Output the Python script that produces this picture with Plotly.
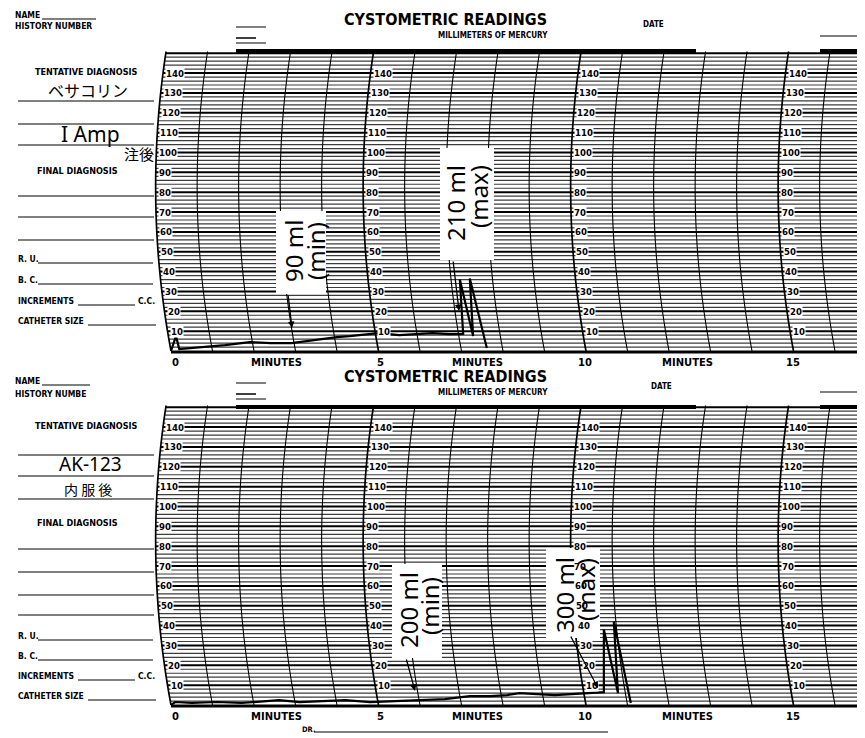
import numpy as np
import plotly.graph_objects as go

W, H = 865, 738

# ---------------- data (minutes, mmHg) ----------------
top_time = [0.00, 0.12, 0.20, 0.50, 0.90, 1.30, 1.90, 2.40, 2.90, 3.40, 4.00, 4.30,
            4.60, 5.00, 5.50, 5.90, 6.30, 6.70, 7.04, 6.96, 7.28, 7.20, 7.61]
top_press = [0.0, 7.5, 1.0, 1.5, 2.0, 3.0, 4.5, 4.0, 4.0, 5.5, 7.0, 7.5,
             8.0, 9.0, 8.0, 8.5, 9.0, 8.5, 8.6, 36.0, 7.5, 36.5, 1.5]

bot_time = [0.00, 0.10, 0.50, 1.10, 1.70, 2.30, 2.60, 3.10, 3.70, 4.20, 4.80, 5.30,
            6.00, 6.60, 7.20, 7.70, 8.10, 8.40, 9.25, 9.90, 10.43, 10.43, 10.77, 10.67, 11.08]
bot_press = [0.0, 1.5, 1.0, 1.5, 1.0, 2.0, 2.5, 1.5, 2.0, 2.5, 1.5, 2.0,
             2.5, 3.0, 4.5, 4.5, 5.0, 6.0, 5.0, 6.0, 6.5, 38.0, 6.0, 42.0, 1.0]

minute_ticks = [0, 5, 10, 15]
pressure_labels = [10, 20, 30, 40, 50, 60, 70, 80, 90, 100, 110, 120, 130, 140]

# ---------------- geometry ----------------
X0PX, PXM = 163.0, 41.5          # pixel of 0 min, px per minute
PXP = 1.985                      # px per mmHg
TOP_ZERO, BOT_ZERO = 343.0, 697.0
YMIN, YMAX = -1.2, 151.0
LEFT_PX = 140.0
XMIN = (LEFT_PX - X0PX) / PXM
XMAX = (W - X0PX) / PXM


def pxx(px):
    return px / W


def pxy(py):
    return 1 - py / H


def arc_off(p):
    # curvilinear (pen-arc) offset of the time lines, in minutes
    p = np.asarray(p, dtype=float)
    return (-0.3714 * p + 0.002245 * p ** 2) / PXM


def dx(px):
    return (px - X0PX) / PXM


def dy(py, zero):
    return (zero - py) / PXP


fig = go.Figure()
fig.add_trace(go.Scatter(x=top_time, y=top_press, mode="lines",
                         line=dict(color="black", width=2.2), xaxis="x", yaxis="y",
                         showlegend=False, hoverinfo="skip"))
fig.add_trace(go.Scatter(x=bot_time, y=bot_press, mode="lines",
                         line=dict(color="black", width=2.2), xaxis="x2", yaxis="y2",
                         showlegend=False, hoverinfo="skip"))

shapes = []
annotations = []

boxes = {"y": [(268, 318, 203, 286), (432, 486, 140, 252)],
         "y2": [(384, 434, 556, 650), (538, 592, 540, 630)]}

for (xr, yr, zero) in [("x", "y", TOP_ZERO), ("x2", "y2", BOT_ZERO)]:
    # horizontal chart lines (every 2 mmHg)
    for p in range(2, 152, 2):
        major = p % 10 == 0
        shapes.append(dict(type="line", xref=xr, yref=yr, layer="below",
                           x0=float(arc_off(p)), x1=XMAX, y0=p, y1=p,
                           line=dict(color="#000" if major else "#3c3c3c",
                                     width=2.0 if major else 1.2)))
    # curved time lines (every minute)
    ps = np.linspace(0, YMAX, 32)
    for m in range(0, 18):
        xs = m + arc_off(ps)
        path = "M " + " L ".join(f"{a:.4f},{b:.3f}" for a, b in zip(xs, ps))
        shapes.append(dict(type="path", xref=xr, yref=yr, layer="below", path=path,
                           line=dict(color="black", width=1.7 if m % 5 == 0 else 1.1)))
    # thick base line
    shapes.append(dict(type="line", xref=xr, yref=yr, layer="below",
                       x0=0, x1=XMAX, y0=-0.7, y1=-0.7,
                       line=dict(color="black", width=4)))
    # white boxes behind hand-written notes
    for (x0, x1, y0, y1) in boxes[yr]:
        shapes.append(dict(type="rect", xref=xr, yref=yr, layer="below",
                           x0=dx(x0), x1=dx(x1), y0=dy(y1, zero), y1=dy(y0, zero),
                           fillcolor="white", line=dict(width=0)))
    # pressure labels on major time lines
    for m in minute_ticks:
        for p in pressure_labels:
            annotations.append(dict(x=m + float(arc_off(p)) + 0.05, y=p, xref=xr, yref=yr,
                                    text=f"<b>{p}</b>", showarrow=False, xanchor="left",
                                    yanchor="middle",
                                    font=dict(family="DejaVu Sans Condensed", size=9.5, color="black"),
                                    bgcolor="white", borderpad=0))

hand = dict(family="Noto Sans", size=24, color="black")
notes = [("90 ml", 285, 243), ("(min)", 307, 243),
         ("210 ml", 448, 195), ("(max)", 470, 188),
         ("200 ml", 400, 602), ("(min)", 421, 598),
         ("300 ml", 556, 587), ("(max)", 577, 582)]
for t, x, y in notes:
    annotations.append(dict(text=t, x=pxx(x), y=pxy(y), xref="paper", yref="paper",
                            xanchor="center", yanchor="middle",
                            showarrow=False, textangle=-90, font=hand))

arrows = [("x", "y", TOP_ZERO, (280, 286), (284, 320)),
          ("x", "y", TOP_ZERO, (445, 252), (451, 303)),
          ("x2", "y2", BOT_ZERO, (398, 650), (407, 683)),
          ("x2", "y2", BOT_ZERO, (562, 627), (590, 680))]
for xr, yr, zero, (ax, ay), (tx, ty) in arrows:
    annotations.append(dict(text="", x=dx(tx), y=dy(ty, zero), ax=dx(ax), ay=dy(ay, zero),
                            xref=xr, yref=yr, axref=xr, ayref=yr, showarrow=True,
                            arrowhead=2, arrowsize=1, arrowwidth=1.3, arrowcolor="black"))


# ---------------- headers, minutes row, form text ----------------
def txt(t, x, y, size=9, family="DejaVu Sans Condensed", bold=True, anchor="left"):
    annotations.append(dict(text=f"<b>{t}</b>" if bold else t, x=pxx(x), y=pxy(y),
                            xref="paper", yref="paper", showarrow=False,
                            xanchor=anchor, yanchor="middle",
                            font=dict(family=family, size=size, color="black")))


def hline(x0, x1, y, w=1.0):
    shapes.append(dict(type="line", xref="paper", yref="paper", x0=pxx(x0), x1=pxx(x1),
                       y0=pxy(y), y1=pxy(y), line=dict(color="black", width=w)))


for off, zero in [(0, TOP_ZERO), (356, BOT_ZERO)]:
    txt("CYSTOMETRIC READINGS", 437, 12 + off, size=16, family="DejaVu Sans Condensed", bold=True, anchor="center")
    txt("MILLIMETERS OF MERCURY", 428, 28 + off, size=8)
    txt("DATE", 645 + (8 if off else 0), 16 + off + (6 if off else 0), size=8, anchor="center")
    hline(228, 688, 43 + off, w=4)
    hline(812, 865, 43 + off, w=4)
    hline(812, 865, 28 + off, w=1)
    hline(228, 258, 19 + off, w=1)
    hline(228, 248, 30 + off, w=1.5)
    hline(228, 258, 35 + off, w=1)
    yrow = zero + 11
    for t, x in [("0", 167), ("MINUTES", 268), ("5", 372), ("MINUTES", 470),
                 ("10", 577), ("MINUTES", 679), ("15", 785)]:
        txt(t, x, yrow, size=10, family="DejaVu Sans", anchor="center")

# top form
txt("NAME", 5, 7, size=8.5); hline(34, 88, 11)
txt("HISTORY NUMBER", 5, 18, size=8.5)
txt("TENTATIVE DIAGNOSIS", 78, 64, size=9, anchor="center")
txt("ベサコリン", 80, 82, size=16, family="Noto Sans CJK JP", bold=False, anchor="center")
hline(10, 146, 93); hline(10, 146, 116)
txt("I Amp", 82, 126, size=21, family="Noto Sans", bold=False, anchor="center")
hline(10, 146, 137)
txt("注後", 131, 145, size=15, family="Noto Sans CJK JP", bold=False, anchor="center")
txt("FINAL DIAGNOSIS", 27, 163, size=9)
hline(10, 146, 188); hline(10, 146, 209); hline(10, 146, 232)
txt("R. U.", 8, 251, size=8.5); hline(30, 145, 255)
txt("B. C.", 8, 272, size=8.5); hline(30, 145, 276)
txt("INCREMENTS", 8, 293, size=8.5); hline(70, 127, 297); txt("C.C.", 128, 293, size=8.5)
txt("CATHETER SIZE", 8, 313, size=8.5); hline(80, 148, 317)

# bottom form
txt("NAME", 5, 373, size=8.5); hline(34, 82, 377)
txt("HISTORY NUMBE", 5, 386, size=8.5)
txt("TENTATIVE DIAGNOSIS", 78, 418, size=9, anchor="center")
hline(10, 146, 447)
txt("AK-123", 82, 456, size=19, family="Noto Sans", bold=False, anchor="center")
hline(10, 146, 468)
txt("内 服 後", 80, 481, size=14, family="Noto Sans CJK JP", bold=False, anchor="center")
hline(10, 146, 491)
txt("FINAL DIAGNOSIS", 27, 515, size=9)
hline(10, 146, 541); hline(10, 146, 564); hline(10, 146, 587); hline(10, 146, 607)
txt("R. U.", 8, 628, size=8.5); hline(30, 145, 632)
txt("B. C.", 8, 648, size=8.5); hline(30, 145, 652)
txt("INCREMENTS", 8, 668, size=8.5); hline(70, 127, 672); txt("C.C.", 128, 668, size=8.5)
txt("CATHETER SIZE", 8, 688, size=8.5); hline(80, 148, 692)
txt("DR.", 292, 721, size=7.5); hline(306, 600, 724)

ax_common = dict(showgrid=False, zeroline=False, showticklabels=False, ticks="",
                 showline=False, fixedrange=True)
fig.update_layout(
    width=W, height=H, autosize=False,
    margin=dict(l=0, r=0, t=0, b=0),
    paper_bgcolor="white", plot_bgcolor="rgba(0,0,0,0)",
    showlegend=False,
    xaxis=dict(domain=[pxx(LEFT_PX), 1], range=[XMIN, XMAX], anchor="y", **ax_common),
    yaxis=dict(domain=[pxy(TOP_ZERO - YMIN * PXP), pxy(TOP_ZERO - YMAX * PXP)],
               range=[YMIN, YMAX], anchor="x", **ax_common),
    xaxis2=dict(domain=[pxx(LEFT_PX), 1], range=[XMIN, XMAX], anchor="y2", **ax_common),
    yaxis2=dict(domain=[pxy(BOT_ZERO - YMIN * PXP), pxy(BOT_ZERO - YMAX * PXP)],
                range=[YMIN, YMAX], anchor="x2", **ax_common),
    shapes=shapes, annotations=annotations,
)

fig.write_html("out.html")
